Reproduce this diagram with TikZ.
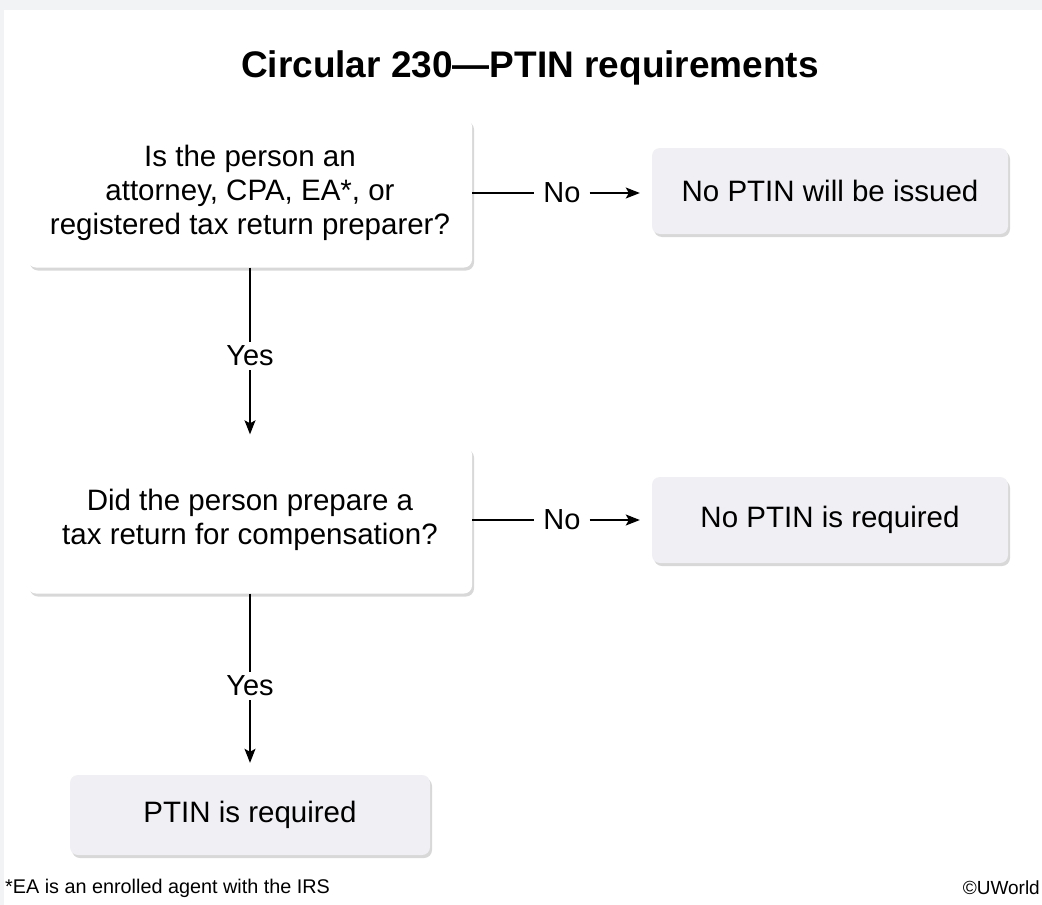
\documentclass[tikz,border=0pt]{standalone}
\usepackage{fontspec}
\setmainfont{Liberation Sans}
\usetikzlibrary{arrows.meta,shadows}

\definecolor{pagegrey}{HTML}{F2F3F5}
\definecolor{resultfill}{HTML}{EFEFF4}

\tikzset{
    qbox/.style={draw=none, fill=white, rounded corners=8pt, align=center,
        minimum width=444pt, minimum height=149pt, font=\fontsize{29.5}{34}\selectfont,
        drop shadow={opacity=0.3, shadow xshift=2pt, shadow yshift=-3pt}},
    rbox/.style={qbox, fill=resultfill, minimum width=356pt, minimum height=86pt},
    lbl/.style={font=\fontsize{29}{32}\selectfont, inner xsep=9pt, inner ysep=4pt},
    link/.style={line width=1.4pt},
    arr/.style={link, shorten >=12pt, -{Stealth[length=14pt, width=11pt, inset=3pt]}}
}

\begin{document}
\begin{tikzpicture}[x=1pt, y=-1pt]
        % Page and panel
        \fill[pagegrey] (0,0) rectangle (1042,905);
        \fill[white] (4,10) rectangle (1042,905);
        \useasboundingbox (0,0) rectangle (1042,905);

        % Title
        \node[font=\bfseries\fontsize{37}{42}\selectfont] (title) at (530,68) {Circular 230---PTIN requirements};

        % First question
        \node[qbox] (q1) at (250,193) {Is the person an\\attorney, CPA, EA*, or\\registered tax return preparer?};
        \node[rbox] (r1) at (830,191) {No PTIN will be issued};
        \node[lbl] (no1) at (562,193) {No};
        \draw[link] (q1.east) -- (no1.west);
        \draw[arr] (no1.east) -- (r1.west |- no1.east);

        % Second question
        \node[qbox, minimum height=147pt] (q2) at (250,520) {Did the person prepare a\\tax return for compensation?};
        \node[rbox] (r2) at (830,520) {No PTIN is required};
        \node[lbl] (no2) at (562,520) {No};
        \draw[link] (q2.east) -- (no2.west);
        \draw[arr] (no2.east) -- (r2.west);

        \node[lbl] (yes1) at (250,356) {Yes};
        \draw[link] (q1.south) -- (yes1.north);
        \draw[arr] (yes1.south) -- (q2.north);

        % Result
        \node[rbox, minimum width=360pt, minimum height=80pt] (r3) at (250,815) {PTIN is required};
        \node[lbl] (yes2) at (250,686) {Yes};
        \draw[link] (q2.south) -- (yes2.north);
        \draw[arr] (yes2.south) -- (r3.north);

        % Footer
        \node[anchor=west, font=\fontsize{19.8}{24}\selectfont, inner sep=0pt] (note) at (5,888) {*EA is an enrolled agent with the IRS};
        \node[anchor=east, font=\fontsize{19}{22}\selectfont, inner sep=0pt] (copy) at (1040,888) {\textcopyright UWorld};
    \end{tikzpicture}
\end{document}
